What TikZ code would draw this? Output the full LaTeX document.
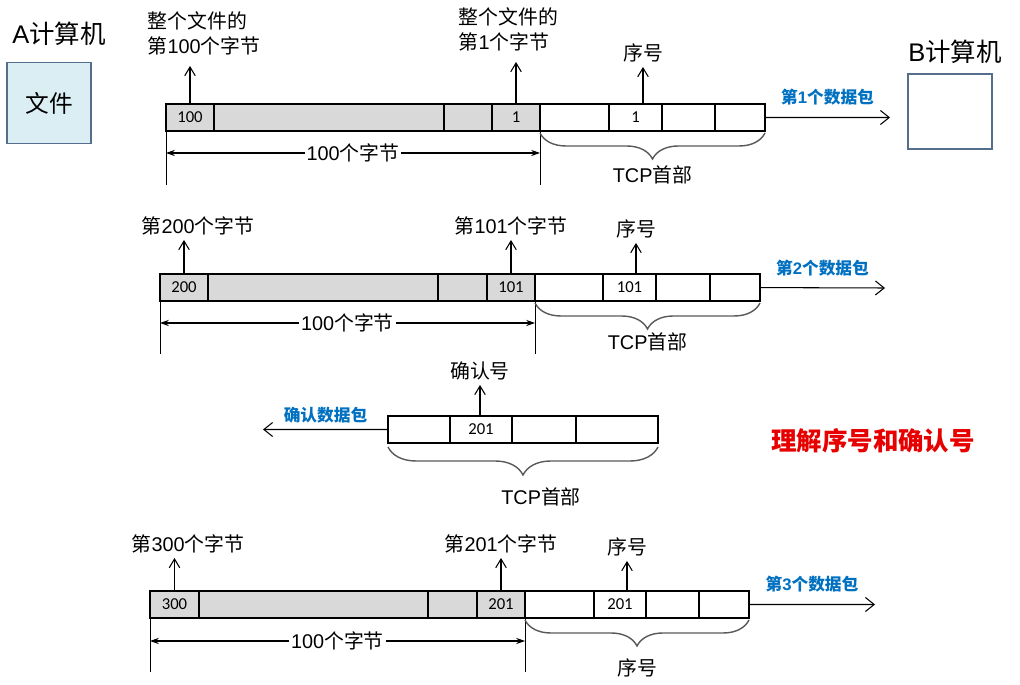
\documentclass[tikz,border=0pt]{standalone}
\usepackage{fontspec}
\setmainfont{Liberation Sans}
\newfontfamily\cjk{Noto Sans CJK SC}
\newfontfamily\numfont{Carlito}
\usetikzlibrary{positioning,arrows.meta,decorations.pathreplacing}

\definecolor{cellgray}{RGB}{217,217,217}
\definecolor{filefill}{RGB}{218,238,243}
\definecolor{hostline}{RGB}{85,110,140}
\definecolor{pktblue}{RGB}{0,112,192}
\definecolor{notered}{RGB}{230,0,0}
\definecolor{bracegray}{RGB}{89,89,89}

\tikzset{
  cellbase/.style={draw, line width=0.6pt, inner sep=0pt, outer sep=0pt, minimum height=0.54cm, font=\numfont\fontsize{9.5}{11}\selectfont},
  datacell/.style={cellbase, fill=cellgray, minimum width=#1*0.02cm},
  hdrcell/.style={cellbase, fill=white, minimum width=#1*0.02cm},
  lbl/.style={inner sep=2.5pt, font=\fontsize{11.3}{14.2}\selectfont},
  pkt/.style={text=pktblue, inner sep=2pt, font=\bfseries\fontsize{9.5}{11}\selectfont},
  uparrow/.style={-{Straight Barb[length=5pt,width=6pt]}, line width=0.6pt},
  send/.style={-{Straight Barb[length=5pt,width=8pt]}, line width=0.6pt},
  dimarrow/.style={{Stealth[length=5pt,width=3.5pt]}-{Stealth[length=5pt,width=3.5pt]}, line width=0.6pt},
  hdrbrace/.style={decorate, decoration={brace, mirror, amplitude=0.52cm}, draw=bracegray, line width=0.8pt},
  host/.style={draw=hostline, line width=0.7pt, inner sep=0pt, minimum width=1.68cm, minimum height=1.62cm},
}

\begin{document}
\begin{tikzpicture}[x=0.02cm, y=-0.02cm]
\useasboundingbox (0,0) rectangle (1020,685);

% hosts
\node[font=\fontsize{14.5}{17}\selectfont] (hostA) at (59,34) {A{\cjk 计算机}};
\node[host, fill=filefill, font=\cjk\fontsize{13.5}{16}\selectfont] (file) at (49,103) {文件};
\node[font=\fontsize{14.5}{17}\selectfont] (hostB) at (955,52) {B{\cjk 计算机}};
\node[host, minimum height=1.5cm] (boxB) at (950,111.5) {};

% 1st packet
\node[datacell=48, anchor=north west] (a1) at (166,104) {100};
\node[datacell=230, right=0pt of a1] (a2) {};
\node[datacell=48, right=0pt of a2] (a3) {};
\node[datacell=48, right=0pt of a3] (a4) {1};
\node[hdrcell=69, right=0pt of a4] (a5) {};
\node[hdrcell=53, right=0pt of a5] (a6) {1};
\node[hdrcell=53, right=0pt of a6] (a7) {};
\node[hdrcell=50, right=0pt of a7] (a8) {};
\node[lbl, align=left, anchor=south west, inner ysep=6pt] (byte100) at (143,66) {{\cjk 整个文件的}\\{\cjk 第}100{\cjk 个字节}};
\node[lbl, align=left, anchor=south west, inner ysep=6pt] (byte1) at (454,62) {{\cjk 整个文件的}\\{\cjk 第}1{\cjk 个字节}};
\node[lbl] (seq1) at (643,53) {\cjk 序号};
\draw[uparrow] (a1.north) -- (a1.north |- byte100.south);
\draw[uparrow] (a4.north) -- (a4.north |- byte1.south);
\draw[uparrow] (a6.north -| seq1.south) -- (seq1.south);
\draw (a1.south west) -- ++(0,54);
\draw (a4.south east) -- ++(0,54);
\draw[dimarrow] ([yshift=-0.44cm]a1.south west) -- ([yshift=-0.44cm]a4.south east)
  node[midway, lbl, fill=white, inner sep=1pt] (len1) {100{\cjk 个字节}};
\draw[hdrbrace] ([yshift=-0.04cm]a5.south west) -- ([yshift=-0.04cm]a8.south east)
  node[midway, lbl, yshift=-0.84cm] (tcp1) {TCP{\cjk 首部}};
\coordinate (out1) at (890,117.5);
\draw[send] (a8) -- (out1) node[midway, pkt, above=4.5pt] (pkt1) {{\cjk 第}1{\cjk 个数据包}};

% 2nd packet
\node[datacell=48, anchor=north west] (b1) at (160,274) {200};
\node[datacell=230, right=0pt of b1] (b2) {};
\node[datacell=49, right=0pt of b2] (b3) {};
\node[datacell=48, right=0pt of b3] (b4) {101};
\node[hdrcell=68, right=0pt of b4] (b5) {};
\node[hdrcell=53, right=0pt of b5] (b6) {101};
\node[hdrcell=54, right=0pt of b6] (b7) {};
\node[hdrcell=50, right=0pt of b7] (b8) {};
\node[lbl] (byte200) at (198,226) {{\cjk 第}200{\cjk 个字节}};
\node[lbl] (byte101) at (511,226) {{\cjk 第}101{\cjk 个字节}};
\node[lbl] (seq2) at (636,229) {\cjk 序号};
\draw[uparrow] (b1.north) -- (b1.north |- byte200.south);
\draw[uparrow] (b4.north) -- (b4.north |- byte101.south);
\draw[uparrow] (b6.north -| seq2.south) -- (seq2.south);
\draw (b1.south west) -- ++(0,53);
\draw (b4.south east) -- ++(0,53);
\draw[dimarrow] ([yshift=-0.44cm]b1.south west) -- ([yshift=-0.44cm]b4.south east)
  node[midway, lbl, fill=white, inner sep=1pt] (len2) {100{\cjk 个字节}};
\draw[hdrbrace] ([yshift=-0.04cm]b5.south west) -- ([yshift=-0.04cm]b8.south east)
  node[midway, lbl, yshift=-0.78cm] (tcp2) {TCP{\cjk 首部}};
\coordinate (out2) at (885,288);
\draw[send] (b8) -- (out2) node[midway, pkt, above=4.5pt] (pkt2) {{\cjk 第}2{\cjk 个数据包}};

% ack
\node[hdrcell=62, anchor=north west] (k1) at (388,416) {};
\node[hdrcell=62, right=0pt of k1] (k2) {201};
\node[hdrcell=64, right=0pt of k2] (k3) {};
\node[hdrcell=82, right=0pt of k3] (k4) {};
\node[lbl] (ackno) at (480,371) {\cjk 确认号};
\draw[uparrow] (k2.north -| ackno.south) -- (ackno.south);
\coordinate (back) at (263,429.5);
\draw[send] (k1) -- (back) node[midway, pkt, above=1.5pt] (ackpkt) {\cjk 确认数据包};
\draw[hdrbrace, decoration={amplitude=0.56cm}] ([yshift=-0.08cm]k1.south west) -- ([yshift=-0.08cm]k4.south east)
  node[midway, lbl, xshift=0.36cm, yshift=-1.0cm] (tcpk) {TCP{\cjk 首部}};
\node[font=\cjk\bfseries\fontsize{14.5}{17}\selectfont, text=notered] (title) at (873,441) {理解序号和确认号};

% 3rd packet
\node[datacell=49, anchor=north west] (c1) at (150,591) {300};
\node[datacell=229, right=0pt of c1] (c2) {};
\node[datacell=49, right=0pt of c2] (c3) {};
\node[datacell=48, right=0pt of c3] (c4) {201};
\node[hdrcell=69, right=0pt of c4] (c5) {};
\node[hdrcell=52, right=0pt of c5] (c6) {201};
\node[hdrcell=53, right=0pt of c6] (c7) {};
\node[hdrcell=50, right=0pt of c7] (c8) {};
\node[lbl] (byte300) at (188,544) {{\cjk 第}300{\cjk 个字节}};
\node[lbl] (byte201) at (501,544) {{\cjk 第}201{\cjk 个字节}};
\node[lbl] (seq3) at (627,547) {\cjk 序号};
\draw[uparrow] (c1.north) -- (c1.north |- byte300.south);
\draw[uparrow] (c4.north) -- (c4.north |- byte201.south);
\draw[uparrow] (c6.north -| seq3.south) -- (seq3.south);
\draw (c1.south west) -- ++(0,54);
\draw (c4.south east) -- ++(0,54);
\draw[dimarrow] ([yshift=-0.46cm]c1.south west) -- ([yshift=-0.46cm]c4.south east)
  node[midway, lbl, fill=white, inner sep=1pt] (len3) {100{\cjk 个字节}};
\draw[hdrbrace] ([yshift=-0.04cm]c5.south west) -- ([yshift=-0.04cm]c8.south east)
  node[midway, lbl, yshift=-0.96cm] (seqb) {\cjk 序号};
\coordinate (out3) at (875,604.5);
\draw[send] (c8) -- (out3) node[midway, pkt, above=4.5pt] (pkt3) {{\cjk 第}3{\cjk 个数据包}};
\end{tikzpicture}
\end{document}
